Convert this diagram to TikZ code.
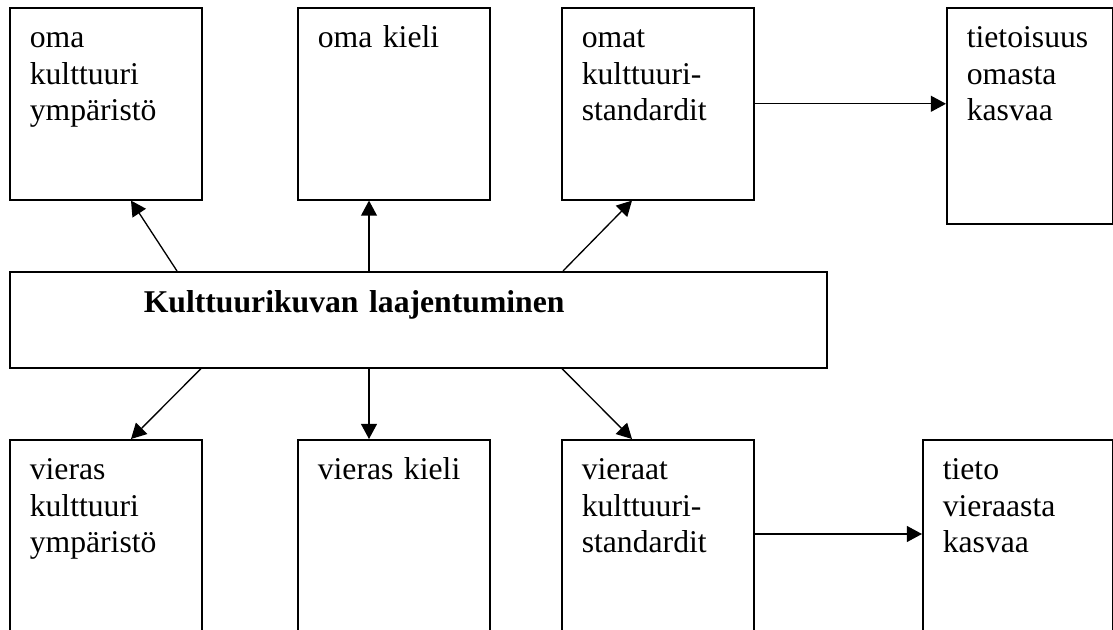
\documentclass[tikz,border=0pt]{standalone}
\usepackage{fontspec}
\setmainfont{Liberation Serif}
\usetikzlibrary{arrows.meta}
\newcommand{\unitpx}{0.3788pt}
\tikzstyle{cell} = [rectangle, draw=black, line width=0.6pt, anchor=north west, align=left, inner xsep=20*\unitpx, inner ysep=0pt, text height=40*\unitpx, font=\fontsize{12}{13.85}\selectfont]
\tikzstyle{title} = [cell, inner xsep=134*\unitpx, text height=41*\unitpx, font=\fontsize{12}{13.85}\selectfont\bfseries]
\tikzstyle{arrow} = [line width=0.5pt, -{Triangle[length=5.7pt, width=6pt]}]

\begin{document}
\begin{tikzpicture}[x=\unitpx, y=-\unitpx]
    \useasboundingbox (0,0) rectangle (1113,630);
    \clip (0,0) rectangle (1113,630);

    \node (t1) [cell, text width=152*\unitpx, text depth=152*\unitpx] at (9,7) {oma\\kulttuuri\\ympäristö};
    \node (t2) [cell, text width=152*\unitpx, text depth=152*\unitpx] at (297,7) {oma kieli};
    \node (t3) [cell, text width=152*\unitpx, text depth=152*\unitpx] at (561,7) {omat\\kulttuuri-\\standardit};
    \node (t4) [cell, text width=126*\unitpx, text depth=176*\unitpx] at (946,7) {tietoisuus\\omasta\\kasvaa};

    \node (mid) [title, text width=549*\unitpx, text depth=55*\unitpx] at (9,271) {Kulttuurikuvan laajentuminen};

    \node (b1) [cell, text width=152*\unitpx, text depth=260*\unitpx] at (9,439) {vieras\\kulttuuri\\ympäristö};
    \node (b2) [cell, text width=152*\unitpx, text depth=260*\unitpx] at (297,439) {vieras kieli};
    \node (b3) [cell, text width=152*\unitpx, text depth=260*\unitpx] at (561,439) {vieraat\\kulttuuri-\\standardit};
    \node (b4) [cell, text width=150*\unitpx, text depth=260*\unitpx] at (922,439) {tieto\\vieraasta\\kasvaa};

    \coordinate (b3out) at ([yshift=-95*\unitpx]b3.north east);

    \draw [arrow] ([xshift=168*\unitpx]mid.north west) -- ([xshift=122*\unitpx]t1.south west);
    \draw [arrow] ([xshift=360*\unitpx]mid.north west) -- ([xshift=72*\unitpx]t2.south west);
    \draw [arrow] ([xshift=554*\unitpx]mid.north west) -- ([xshift=71*\unitpx]t3.south west);

    \draw [arrow] ([xshift=192*\unitpx]mid.south west) -- ([xshift=122*\unitpx]b1.north west);
    \draw [arrow] ([xshift=360*\unitpx]mid.south west) -- ([xshift=72*\unitpx]b2.north west);
    \draw [arrow] ([xshift=553*\unitpx]mid.south west) -- ([xshift=71*\unitpx]b3.north west);

    \draw [arrow] (t3.east) -- (t3.east -| t4.west);
    \draw [arrow] (b3out) -- (b3out -| b4.west);
\end{tikzpicture}
\end{document}
